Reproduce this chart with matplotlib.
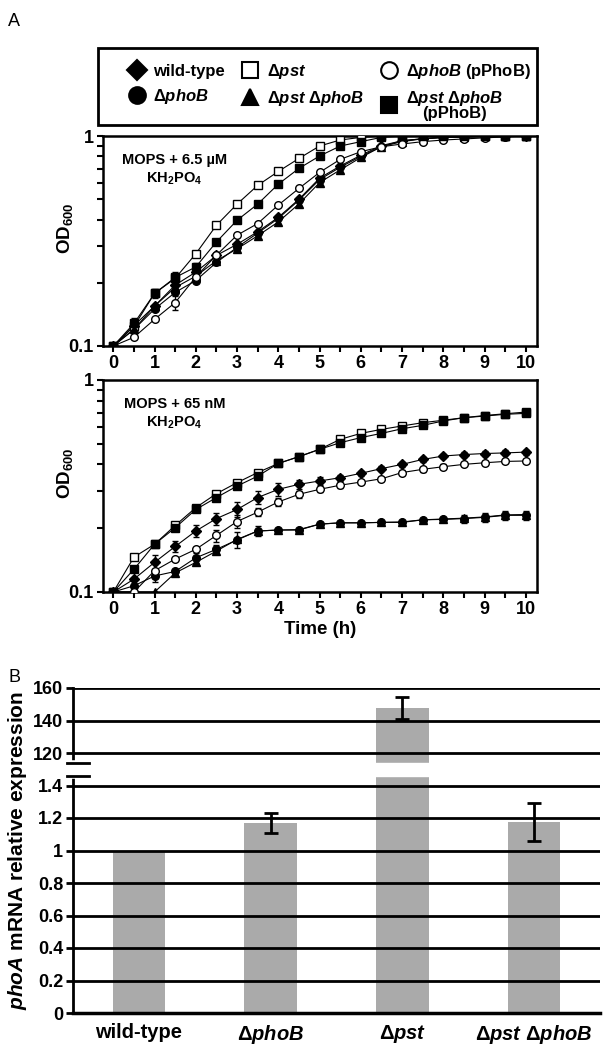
import numpy as np
import matplotlib
matplotlib.use('Agg')
import matplotlib.pyplot as plt
from matplotlib.lines import Line2D
from matplotlib.patches import Rectangle
from matplotlib.ticker import FixedLocator, NullFormatter, FixedFormatter

plt.rcParams['font.family'] = ['Liberation Sans', 'DejaVu Sans']
plt.rcParams['font.weight'] = 'bold'
plt.rcParams['mathtext.fontset'] = 'custom'
plt.rcParams['mathtext.rm'] = 'Liberation Sans:bold'
plt.rcParams['mathtext.it'] = 'Liberation Sans:italic:bold'
plt.rcParams['mathtext.bf'] = 'Liberation Sans:bold'

# time points (h)
time = np.arange(0, 10.5, 0.5)

# OD600, MOPS + 6.5 uM KH2PO4
hi_wt = [0.1, 0.125, 0.155, 0.195, 0.225, 0.27, 0.305, 0.35, 0.41, 0.50, 0.63, 0.72, 0.81, 0.90, 0.95, 0.97, 0.985, 0.99, 0.995, 1.0, 1.0]
hi_phoB = [0.1, 0.12, 0.15, 0.18, 0.205, 0.25, 0.295, 0.345, 0.405, 0.495, 0.62, 0.71, 0.80, 0.89, 0.95, 0.97, 0.985, 0.99, 0.995, 1.0, 1.0]
hi_pst = [0.1, 0.124, 0.178, 0.21, 0.275, 0.376, 0.474, 0.582, 0.678, 0.782, 0.896, 0.957, 0.985, 1.0, 1.0, 1.0, 1.0, 1.0, 1.0, 1.0, 1.0]
hi_pstphoB = [0.1, 0.12, 0.155, 0.19, 0.215, 0.255, 0.29, 0.335, 0.39, 0.475, 0.60, 0.69, 0.79, 0.89, 0.94, 0.97, 0.985, 0.99, 0.995, 1.0, 1.0]
hi_phoB_comp = [0.1, 0.11, 0.134, 0.161, 0.213, 0.271, 0.337, 0.383, 0.469, 0.563, 0.671, 0.774, 0.842, 0.889, 0.916, 0.94, 0.957, 0.968, 0.98, 0.99, 1.0]
hi_pstphoB_comp = [0.1, 0.128, 0.178, 0.212, 0.238, 0.313, 0.397, 0.474, 0.59, 0.701, 0.803, 0.896, 0.94, 0.985, 1.0, 1.0, 1.0, 1.0, 1.0, 1.0, 1.0]
hi_err_pstphoB_comp = [0, 0.008, 0.009, 0.012, 0.01, 0, 0, 0, 0, 0, 0, 0, 0, 0, 0, 0, 0, 0, 0, 0, 0]
hi_err_phoB_comp = [0, 0, 0, 0.012, 0, 0, 0, 0, 0, 0, 0, 0, 0, 0, 0, 0, 0, 0, 0, 0, 0]

# OD600, MOPS + 65 nM KH2PO4
lo_wt = [0.1, 0.115, 0.138, 0.164, 0.194, 0.222, 0.245, 0.279, 0.305, 0.322, 0.334, 0.346, 0.363, 0.382, 0.40, 0.422, 0.438, 0.445, 0.45, 0.453, 0.457]
lo_phoB = [0.1, 0.107, 0.119, 0.125, 0.145, 0.159, 0.176, 0.194, 0.196, 0.196, 0.209, 0.212, 0.212, 0.213, 0.213, 0.219, 0.22, 0.222, 0.225, 0.23, 0.23]
lo_pst = [0.1, 0.146, 0.168, 0.206, 0.25, 0.291, 0.328, 0.366, 0.404, 0.435, 0.471, 0.525, 0.56, 0.585, 0.607, 0.629, 0.646, 0.664, 0.68, 0.693, 0.706]
lo_pstphoB = [0.1, 0.1, 0.1, 0.123, 0.138, 0.156, 0.177, 0.194, 0.196, 0.197, 0.209, 0.212, 0.212, 0.213, 0.214, 0.219, 0.221, 0.223, 0.226, 0.231, 0.232]
lo_phoB_comp = [0.1, 0.1, 0.126, 0.143, 0.159, 0.185, 0.215, 0.238, 0.266, 0.289, 0.305, 0.319, 0.33, 0.342, 0.366, 0.379, 0.39, 0.40, 0.407, 0.413, 0.415]
lo_pstphoB_comp = [0.1, 0.128, 0.168, 0.201, 0.245, 0.279, 0.316, 0.352, 0.404, 0.435, 0.471, 0.506, 0.535, 0.56, 0.589, 0.611, 0.641, 0.664, 0.676, 0.689, 0.696]
lo_err_wt = [0, 0, 0.012, 0.01, 0.012, 0.015, 0.02, 0.02, 0.022, 0.015, 0.014, 0.012, 0.01, 0.01, 0.01, 0.01, 0.01, 0.012, 0.012, 0.012, 0.012]
lo_err_phoB = [0, 0, 0.008, 0, 0.008, 0.008, 0.015, 0.01, 0, 0, 0, 0, 0, 0, 0, 0, 0, 0.01, 0.01, 0.012, 0.012]
lo_err_phoB_comp = [0, 0, 0.01, 0, 0, 0.012, 0.015, 0.01, 0.012, 0.01, 0.008, 0.008, 0.008, 0.008, 0.01, 0.01, 0.01, 0.008, 0.008, 0.008, 0.008]

# phoA mRNA expression (bars)
strains = ['wild-type', 'Δ$\\mathit{phoB}$', 'Δ$\\mathit{pst}$', 'Δ$\\mathit{pst}$ Δ$\\mathit{phoB}$']
expr = [1.0, 1.17, 147.5, 1.175]
expr_err = [0, 0.06, 6.8, 0.115]
ytick_vals = [0, 0.2, 0.4, 0.6, 0.8, 1.0, 1.2, 1.4, 120, 140, 160]
ytick_text = ['0', '0.2', '0.4', '0.6', '0.8', '1', '1.2', '1.4', '120', '140', '160']

styles = [
    ('wild-type', 'D', 'k'),
    ('Δ$\\mathit{phoB}$', 'o', 'k'),
    ('Δ$\\mathit{pst}$', 's', 'w'),
    ('Δ$\\mathit{pst}$ Δ$\\mathit{phoB}$', '^', 'k'),
    ('Δ$\\mathit{phoB}$ (pPhoB)', 'o', 'w'),
    ('Δ$\\mathit{pst}$ Δ$\\mathit{phoB}$\n(pPhoB)', 's', 'k'),
]

fig = plt.figure(figsize=(6.03, 10.5), dpi=100)
W, H = 603.0, 1050.0


def px_axes(l, t, r, b):
    return fig.add_axes([l / W, 1 - b / H, (r - l) / W, (b - t) / H])


def growth_panel(ax, series, errs, note):
    for (lab, mk, fc), y, e in zip(styles, series, errs):
        ax.errorbar(time, y, yerr=e, color='k', lw=0.8, marker=mk, ms=5.5 if mk != 'D' else 4.8,
                    mfc=fc, mec='k', mew=1.0, capsize=2, elinewidth=1.0, zorder=3)
    ax.set_yscale('log')
    ax.set_ylim(0.1, 1)
    ax.set_xlim(-0.25, 10.27)
    ax.yaxis.set_major_locator(FixedLocator([0.1, 1]))
    ax.yaxis.set_major_formatter(FixedFormatter(['0.1', '1']))
    ax.yaxis.set_minor_locator(FixedLocator([0.2, 0.3, 0.4, 0.5, 0.6, 0.7, 0.8, 0.9]))
    ax.yaxis.set_minor_formatter(NullFormatter())
    ax.set_xticks(range(0, 11))
    ax.set_xticks(np.arange(0.5, 10, 1), minor=True)
    ax.tick_params(which='both', direction='out', length=4.5, width=1.5, labelsize=13, pad=2)
    ax.tick_params(axis='y', which='minor', length=4.5)
    for s in ax.spines.values():
        s.set_linewidth(1.8)
    ax.set_ylabel('OD$_{600}$', fontsize=13.5, fontweight='bold')
    ax.yaxis.set_label_coords(-0.065, 0.56)
    ax.text(0.165, 0.84, note, transform=ax.transAxes, ha='center', va='center',
            fontsize=10.5, fontweight='bold', linespacing=1.3)


ax1 = px_axes(103, 136, 537, 346)
growth_panel(ax1, [hi_wt, hi_phoB, hi_pst, hi_pstphoB, hi_phoB_comp, hi_pstphoB_comp],
             [None, None, None, None, hi_err_phoB_comp, hi_err_pstphoB_comp],
             'MOPS + 6.5 µM\nKH$_2$PO$_4$')

ax2 = px_axes(103, 380, 537, 592)
growth_panel(ax2, [lo_wt, lo_phoB, lo_pst, lo_pstphoB, lo_phoB_comp, lo_pstphoB_comp],
             [lo_err_wt, lo_err_phoB, None, None, lo_err_phoB_comp, None],
             'MOPS + 65 nM\nKH$_2$PO$_4$')
ax2.set_xlabel('Time (h)', fontsize=13.5, fontweight='bold', labelpad=2)

# legend box (frame drawn separately so the padding can be uneven like the original)
fig.add_artist(Rectangle((98 / W, 1 - 125 / H), 439 / W, 77 / H, transform=fig.transFigure,
                         fill=False, edgecolor='k', lw=2))
handles = [Line2D([], [], ls='none', marker=mk, mfc=fc, mec='k', mew=1.5,
                  ms=12 if mk != 'D' else 10.5) for lab, mk, fc in styles]
leg = fig.legend(handles, [s[0] for s in styles], ncol=3, loc='upper left',
                 bbox_to_anchor=(125 / W, 1 - 62 / H), frameon=False, fontsize=12,
                 handletextpad=0.3, columnspacing=0.8, borderpad=0, labelspacing=0.45,
                 handlelength=1.4, borderaxespad=0)
leg.get_texts()[5].set_multialignment('center')
leg.get_texts()[5].set_linespacing(0.9)

fig.text(8 / W, 1 - 22 / H, 'A', fontsize=13, fontweight='normal', va='center')
fig.text(8 / W, 1 - 678 / H, 'B', fontsize=13, fontweight='normal', va='center')

# bar chart with broken axis
lo_cut, hi_cut = 1.46, 114.0


def fwd(v):
    v = np.asarray(v, dtype=float)
    return np.where(v <= lo_cut, v / 0.2,
                    np.where(v >= hi_cut, 7 + (v - 100) / 20,
                             lo_cut / 0.2 + (v - lo_cut) / (hi_cut - lo_cut) * (7 + (hi_cut - 100) / 20 - lo_cut / 0.2)))


def inv(p):
    p = np.asarray(p, dtype=float)
    p1, p2 = lo_cut / 0.2, 7 + (hi_cut - 100) / 20
    return np.where(p <= p1, p * 0.2,
                    np.where(p >= p2, 100 + (p - 7) * 20,
                             lo_cut + (p - p1) / (p2 - p1) * (hi_cut - lo_cut)))


ax3 = px_axes(73, 688, 600, 1013)
ax3.set_yscale('function', functions=(fwd, inv))
ax3.set_ylim(0, 160)
ax3.set_xlim(-0.5, 3.5)
xpos = np.arange(len(strains))
ax3.bar(xpos, expr, width=0.4, color='#aaaaaa', zorder=1)
ax3.errorbar(xpos[1:], expr[1:], yerr=expr_err[1:], fmt='none', ecolor='k', elinewidth=2,
             capsize=5, capthick=2, zorder=4)
for v in ytick_vals:
    ax3.axhline(v, color='k', lw=2, zorder=2)
ax3.axhspan(lo_cut, hi_cut, color='w', zorder=3)
ax3.set_yticks(ytick_vals)
ax3.set_yticklabels(ytick_text)
ax3.set_xticks(xpos)
ax3.set_xticklabels(strains, fontsize=14.5)
ax3.tick_params(axis='y', direction='out', length=5, width=2, labelsize=13, pad=2)
ax3.tick_params(axis='x', length=0, pad=7)
for k in ['top', 'right']:
    ax3.spines[k].set_visible(False)
ax3.spines['left'].set_linewidth(2)
ax3.spines['bottom'].set_linewidth(2.5)
# spine gap and break marks
ax3.plot([0, 0], [lo_cut, hi_cut], transform=ax3.get_yaxis_transform(), color='w', lw=4,
         clip_on=False, zorder=5)
for v in [lo_cut, hi_cut]:
    ax3.plot([-0.012, 0.03], [v, v], transform=ax3.get_yaxis_transform(), color='k', lw=2,
             clip_on=False, zorder=6)
ax3.set_ylabel('$\\mathit{phoA}$ mRNA relative expression', fontsize=15, fontweight='bold', labelpad=3)

fig.savefig('out.png', dpi=100)
